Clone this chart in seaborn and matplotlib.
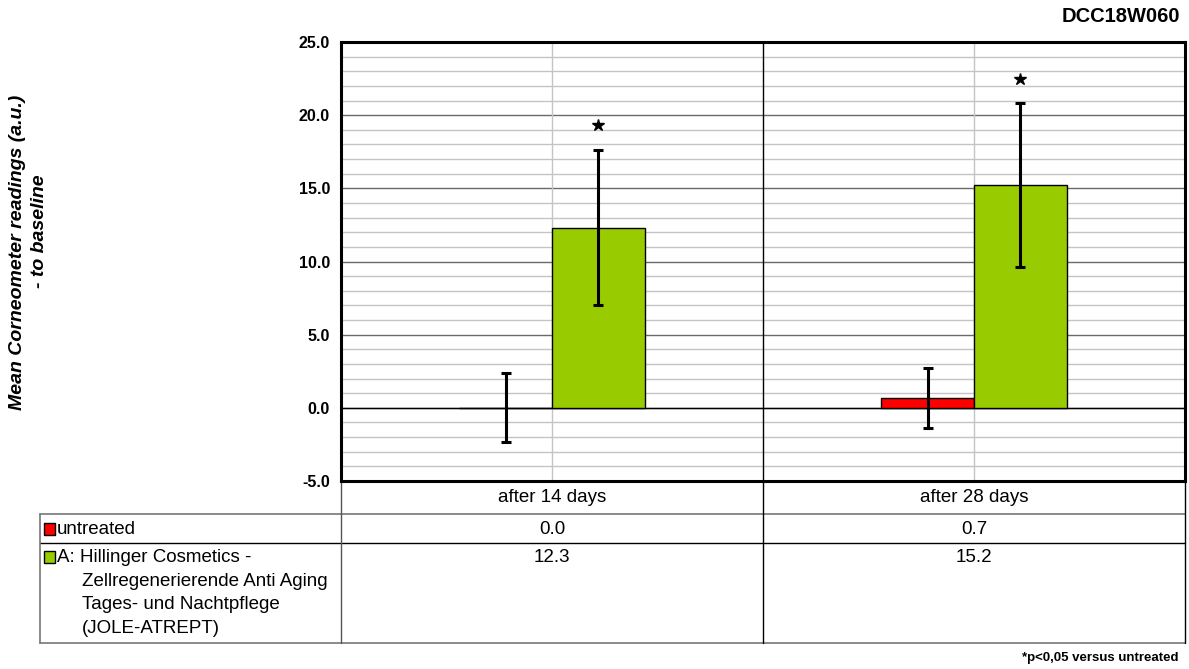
import pandas as pd
import seaborn as sns
import matplotlib.pyplot as plt
from matplotlib.ticker import MultipleLocator

# data
periods = ['after 14 days', 'after 28 days']
group_keys = ['untreated', 'A']
legend_lines = [
    ['untreated'],
    ['A: Hillinger Cosmetics -', 'Zellregenerierende Anti Aging',
     'Tages- und Nachtpflege', '(JOLE-ATREPT)'],
]
untreated_mean = [0.0, 0.7]
untreated_sd = [2.35, 2.05]
product_mean = [12.3, 15.2]
product_sd = [5.3, 5.6]
product_significant = [True, True]
colors = ['#ff0000', '#99cc00']
y_ticks = [-5, 0, 5, 10, 15, 20, 25]

df = pd.DataFrame({
    'period': periods * 2,
    'group': [group_keys[0]] * 2 + [group_keys[1]] * 2,
    'value': untreated_mean + product_mean,
    'sd': untreated_sd + product_sd,
    'sig': [False, False] + product_significant,
})

sns.set_style('white')
plt.rcParams['font.family'] = ['Liberation Sans', 'DejaVu Sans']
plt.rcParams['text.color'] = 'black'
plt.rcParams['ytick.color'] = 'black'
plt.rcParams['xtick.color'] = 'black'

W, H = 1189, 669
fig = plt.figure(figsize=(W / 100, H / 100), dpi=100)
ax = fig.add_axes([341 / W, (H - 481) / H, (1185 - 341) / W, (481 - 42) / H])

sns.barplot(data=df, x='period', y='value', hue='group', order=periods,
            hue_order=group_keys, palette=colors, saturation=1, width=0.44,
            edgecolor='black', linewidth=1, errorbar=None, legend=False,
            ax=ax, zorder=3)

ax.set_xlim(-0.5, 1.5)
ax.set_ylim(-5, 25)

# error bars and significance stars at the bar centres
for container, key in zip(ax.containers, group_keys):
    sub = df[df['group'] == key].set_index('period').loc[periods]
    xs = [b.get_x() + b.get_width() / 2 for b in container]
    ax.errorbar(xs, sub['value'], yerr=sub['sd'], fmt='none', ecolor='black',
                elinewidth=2.2, capsize=3.8, capthick=2.2, zorder=4)
    for x, (_, row) in zip(xs, sub.iterrows()):
        if row['sig']:
            ax.plot(x, row['value'] + row['sd'] + 1.7, marker='*', color='black',
                    markersize=9, zorder=5)

# grid
ax.yaxis.set_minor_locator(MultipleLocator(1))
ax.grid(which='minor', axis='y', color='#c4c4c4', lw=1, zorder=0)
ax.grid(which='major', axis='y', color='#6a6a6a', lw=1, zorder=0)
ax.set_axisbelow(True)
for i in range(len(periods)):
    ax.axvline(i, color='#c4c4c4', lw=1, zorder=1)
ax.axvline(0.5, color='black', lw=1, zorder=1)
ax.axhline(0, color='black', lw=1, zorder=2)

ax.set_yticks(y_ticks, labels=[f'{t:.1f}' for t in y_ticks], fontweight='bold')
ax.tick_params(axis='y', which='major', length=5, width=1.2, labelsize=11.5, pad=3)
ax.tick_params(axis='y', which='minor', length=0)
ax.set_xticks(range(len(periods)), labels=[])
ax.tick_params(axis='x', length=0)
ax.set_xlabel('')
ax.set_ylabel('')
for s in ax.spines.values():
    s.set_visible(True)
    s.set_color('black')
    s.set_linewidth(2.2)

# data table under the plot, in pixel coordinates
tab = fig.add_axes([0, 0, 1, 1], zorder=-1)
tab.set_xlim(0, W)
tab.set_ylim(H, 0)
tab.axis('off')


def xpx(xd):
    return ax.transData.transform((xd, 0))[0]


col_edges = [xpx(i - 0.5) for i in range(len(periods) + 1)]
left = 40
row_y = [481, 514, 543, 643]
tab.plot([left, col_edges[-1]], [row_y[1], row_y[1]], color='#777777', lw=1.2)
tab.plot([left, col_edges[-1]], [row_y[2], row_y[2]], color='black', lw=1)
tab.plot([left, col_edges[-1]], [row_y[3], row_y[3]], color='#777777', lw=1.2)
tab.plot([left, left], [row_y[1], row_y[3]], color='#777777', lw=1.2)
for i, xe in enumerate(col_edges):
    tab.plot([xe, xe], [row_y[0], row_y[3]], color='black' if i else '#555555', lw=1)

fs = 13.5
for i, p in enumerate(periods):
    xc = (col_edges[i] + col_edges[i + 1]) / 2
    tab.text(xc, (row_y[0] + row_y[1]) / 2, p, ha='center', va='center', fontsize=fs)
    tab.text(xc, 521, f'{untreated_mean[i]:.1f}', ha='center', va='top', fontsize=fs)
    tab.text(xc, 549, f'{product_mean[i]:.1f}', ha='center', va='top', fontsize=fs)

row_top = [521, 549]
for k, (lines, c) in enumerate(zip(legend_lines, colors)):
    tab.add_patch(plt.Rectangle((44, row_top[k] + 2), 11, 12, facecolor=c,
                                edgecolor='black', lw=1))
    for j, line in enumerate(lines):
        tab.text(57 if j == 0 else 82, row_top[k] + j * 23.7, line,
                 ha='left', va='top', fontsize=fs)

# titles and labels
fig.text(1180 / W, 1 - 17 / H, 'DCC18W060', ha='right', va='center',
         fontsize=14.5, fontweight='bold')
fig.text(1178 / W, 1 - 658 / H, '*p<0,05 versus untreated', ha='right',
         va='center', fontsize=9.5, fontweight='bold')
fig.text(18 / W, 1 - 252 / H, 'Mean Corneometer readings (a.u.)', rotation=90,
         ha='center', va='center', fontsize=14, fontweight='bold', style='italic')
fig.text(40 / W, 1 - 231 / H, '- to baseline', rotation=90,
         ha='center', va='center', fontsize=14, fontweight='bold', style='italic')

fig.savefig('out.png', dpi=100, facecolor='white')
